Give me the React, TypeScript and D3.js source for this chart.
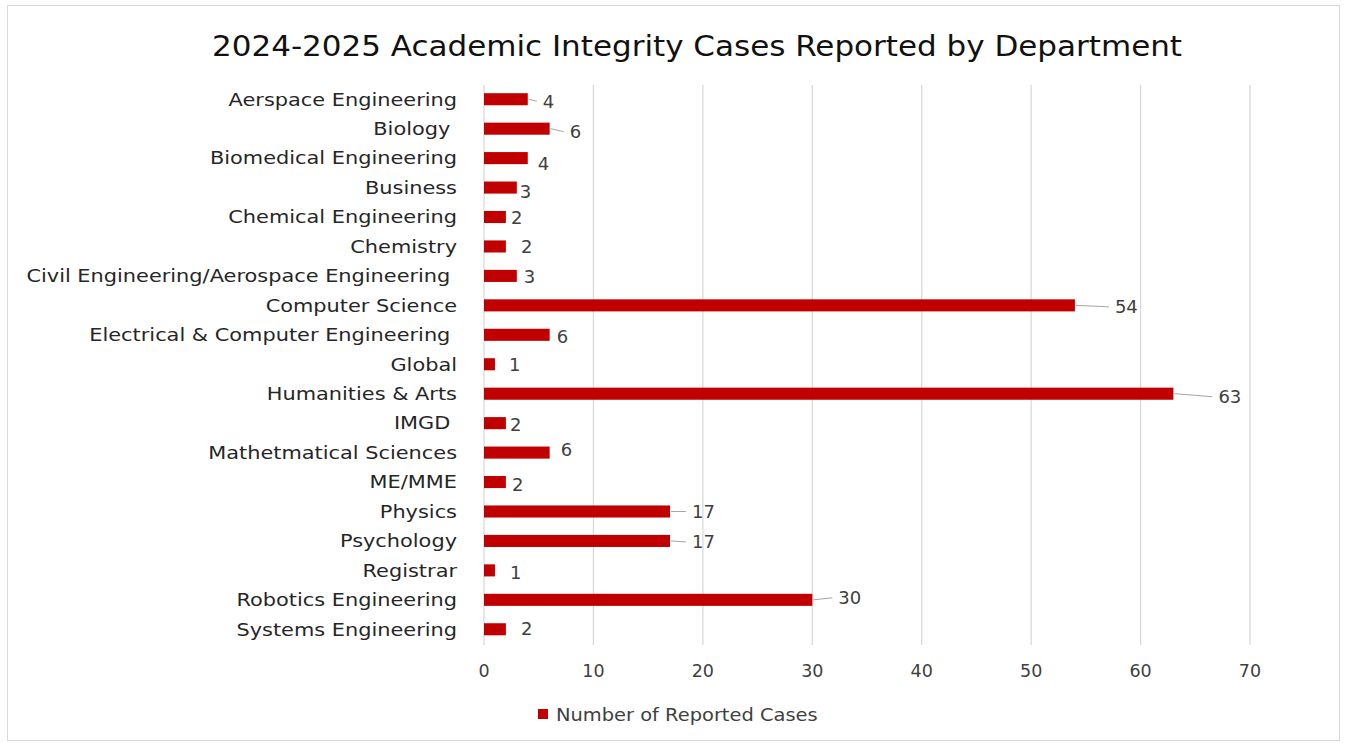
import React from 'react'
import * as d3 from 'd3'

// chart values
const departments = [
  'Aerspace Engineering', 'Biology ', 'Biomedical Engineering', 'Business',
  'Chemical Engineering', 'Chemistry', 'Civil Engineering/Aerospace Engineering ',
  'Computer Science', 'Electrical & Computer Engineering ', 'Global',
  'Humanities & Arts', 'IMGD ', 'Mathetmatical Sciences', 'ME/MME', 'Physics',
  'Psychology', 'Registrar', 'Robotics Engineering', 'Systems Engineering',
]
const reportedCases = [4, 6, 4, 3, 2, 2, 3, 54, 6, 1, 63, 2, 6, 2, 17, 17, 1, 30, 2]
const xTicks = [0, 10, 20, 30, 40, 50, 60, 70]
const seriesName = 'Number of Reported Cases'
const chartTitle = '2024-2025 Academic Integrity Cases Reported by Department'

// where Excel dropped each data label, relative to the bar end (px)
const labelNudge = [
  { dx: 15, dy: 2, leader: true }, { dx: 20, dy: 3, leader: true },
  { dx: 10, dy: 5, leader: false }, { dx: 3, dy: 4, leader: false },
  { dx: 5, dy: 1, leader: false }, { dx: 15, dy: 0, leader: false },
  { dx: 7, dy: 1, leader: false }, { dx: 40, dy: 1.5, leader: true },
  { dx: 7, dy: 2, leader: false }, { dx: 14, dy: 0, leader: false },
  { dx: 45, dy: 3, leader: true }, { dx: 4, dy: 1, leader: false },
  { dx: 11, dy: -3, leader: false }, { dx: 6, dy: 2, leader: false },
  { dx: 22, dy: 0, leader: true }, { dx: 22, dy: 1, leader: true },
  { dx: 15, dy: 2, leader: false }, { dx: 26, dy: -2, leader: true },
  { dx: 15, dy: -1, leader: false },
]

const W = 1346
const H = 743
const font = "'DejaVu Sans', Verdana, sans-serif"
const barColor = '#C00000'
const gridColor = '#d9d9d9'
const textColor = '#404040'

const App = () => {
  const xScale = d3.scaleLinear().domain([0, 70]).range([484, 1250])
  const yScale = d3.scaleBand<string>()
    .domain(departments)
    .range([84.5, 644])
    .paddingInner(0.59)
    .paddingOuter(0.295)

  const bh = yScale.bandwidth()

  return (
    <svg width={W} height={H} style={{ position: 'absolute', left: 0, top: 0 }} fontFamily={font}>
      <rect x={0} y={0} width={W} height={H} fill="#fff" />
      <rect x={7.5} y={5.5} width={1332} height={735} fill="#fff" stroke={gridColor} />

      <text x={697} y={56} textAnchor="middle" fontSize={29} fill="#111"
        textLength={970} lengthAdjust="spacingAndGlyphs">{chartTitle}</text>

      {/* gridlines */}
      {xTicks.map(t => (
        <line key={'g' + t} x1={xScale(t)} x2={xScale(t)} y1={85} y2={645} stroke={gridColor} strokeWidth={1.3} />
      ))}
      {xTicks.map(t => (
        <text key={'t' + t} x={xScale(t)} y={677} textAnchor="middle" fontSize={17.5} fill={textColor}>{t}</text>
      ))}

      {/* category labels, stretched a little to match the source's wide face */}
      {departments.map(d => (
        <text key={'c' + d}
          transform={`translate(457,${(yScale(d) as number) + bh / 2}) scale(1.16,1)`}
          dy="0.35em" textAnchor="end" fontSize={18} fill="#262626"
          style={{ whiteSpace: 'pre' }}>{d}</text>
      ))}

      {/* bars */}
      {departments.map((d, i) => (
        <rect key={'b' + d} x={xScale(0)} y={yScale(d)} width={xScale(reportedCases[i]) - xScale(0)} height={bh} fill={barColor} />
      ))}

      {/* data labels */}
      {departments.map((d, i) => {
        const n = labelNudge[i]
        const x0 = xScale(reportedCases[i])
        const cy = (yScale(d) as number) + bh / 2
        return (
          <g key={'l' + d}>
            {n.leader && (
              <line x1={x0 + 1} y1={cy} x2={x0 + n.dx - 6} y2={cy + n.dy} stroke="#a6a6a6" strokeWidth={1} />
            )}
            <text x={x0 + n.dx} y={cy + n.dy} dy="0.36em" fontSize={18} fill={textColor}>{reportedCases[i]}</text>
          </g>
        )
      })}

      {/* legend */}
      <rect x={538} y={709} width={10} height={10} fill={barColor} />
      <text transform="translate(556,720.5) scale(1.08,1)" fontSize={18} fill={textColor}>{seriesName}</text>
    </svg>
  )
}

export default App
